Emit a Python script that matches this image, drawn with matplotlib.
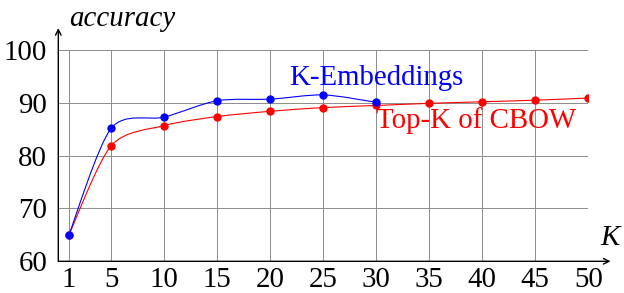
import matplotlib
matplotlib.use("Agg")
import matplotlib.pyplot as plt
from matplotlib.path import Path
from matplotlib.patches import PathPatch

# Data
k_emb_x = [1, 5, 10, 15, 20, 25, 30]
k_emb_y = [65.0, 85.2, 87.3, 90.4, 90.7, 91.5, 90.1]
cbow_x = [1, 5, 10, 15, 20, 25, 30, 35, 40, 45, 50]
cbow_y = [65.0, 81.9, 85.7, 87.4, 88.4, 89.1, 89.5, 89.9, 90.2, 90.5, 90.9]
x_ticks = [1, 5, 10, 15, 20, 25, 30, 35, 40, 45, 50]
y_ticks = [60, 70, 80, 90, 100]
label_emb = "K-Embeddings"
label_cbow = "Top-K of CBOW"

SERIF = ['Liberation Serif', 'DejaVu Serif']
plt.rcParams['font.family'] = SERIF

W, H = 624, 293
fig = plt.figure(figsize=(W / 100, H / 100), dpi=100)
x0, x1 = 58.3, 588.3
y0, y1 = 261.3, 50.0
ax = fig.add_axes([x0 / W, (H - y0) / H, (x1 - x0) / W, (y0 - y1) / H])
ax.set_xlim(0, 50)
ax.set_ylim(60, 100)
for s in ax.spines.values():
    s.set_visible(False)

FS = 20.8
ax.set_xticks(x_ticks)
ax.set_yticks(y_ticks)
ax.set_xticklabels([str(v) for v in x_ticks], fontfamily=SERIF, fontsize=FS)
ax.set_yticklabels([str(v) for v in y_ticks], fontfamily=SERIF, fontsize=FS)
ax.tick_params(axis='x', length=0, pad=4)
ax.tick_params(axis='y', length=0, pad=8)
ax.grid(True, color='#8c8c8c', linewidth=0.7)
ax.set_axisbelow(True)


def smooth(ax, xs, ys, color, f=0.14):
    pts = list(zip(xs, ys))
    n = len(pts)
    verts = [pts[0]]
    codes = [Path.MOVETO]
    for i in range(n - 1):
        p0 = pts[i - 1] if i > 0 else pts[i]
        p1 = pts[i]
        p2 = pts[i + 1]
        p3 = pts[i + 2] if i + 2 < n else pts[i + 1]
        c1 = (p1[0] + f * (p2[0] - p0[0]), p1[1] + f * (p2[1] - p0[1]))
        c2 = (p2[0] - f * (p3[0] - p1[0]), p2[1] - f * (p3[1] - p1[1]))
        verts += [c1, c2, p2]
        codes += [Path.CURVE4] * 3
    ax.add_patch(PathPatch(Path(verts, codes), facecolor='none',
                           edgecolor=color, linewidth=0.8, zorder=3))
    ax.plot(xs, ys, linestyle='none', marker='o', markersize=5,
            color=color, zorder=4)


smooth(ax, cbow_x, cbow_y, 'red')
smooth(ax, k_emb_x, k_emb_y, 'blue')

ax.text(30.0, 94.7, label_emb, color='blue', fontsize=FS,
        ha='center', va='center', fontfamily=SERIF)
ax.text(39.4, 86.7, label_cbow, color='red', fontsize=FS,
        ha='center', va='center', fontfamily=SERIF)

# axis lines with arrows
ax.annotate('', xy=(1.042, 0), xytext=(0, 0), xycoords='axes fraction',
            arrowprops=dict(arrowstyle='->', lw=1.0, color='black',
                            shrinkA=0, shrinkB=0), annotation_clip=False)
ax.annotate('', xy=(0, 1.104), xytext=(0, 0), xycoords='axes fraction',
            arrowprops=dict(arrowstyle='->', lw=1.0, color='black',
                            shrinkA=0, shrinkB=0), annotation_clip=False)

ax.text(1.04, 0.11, 'K', transform=ax.transAxes, fontsize=FS,
        ha='center', va='center', fontfamily=SERIF, fontstyle='italic')
ax.text(0.02, 1.145, 'accuracy', transform=ax.transAxes, fontsize=FS,
        ha='left', va='center', fontfamily=SERIF, fontstyle='italic')

fig.savefig('out.png', dpi=100)
